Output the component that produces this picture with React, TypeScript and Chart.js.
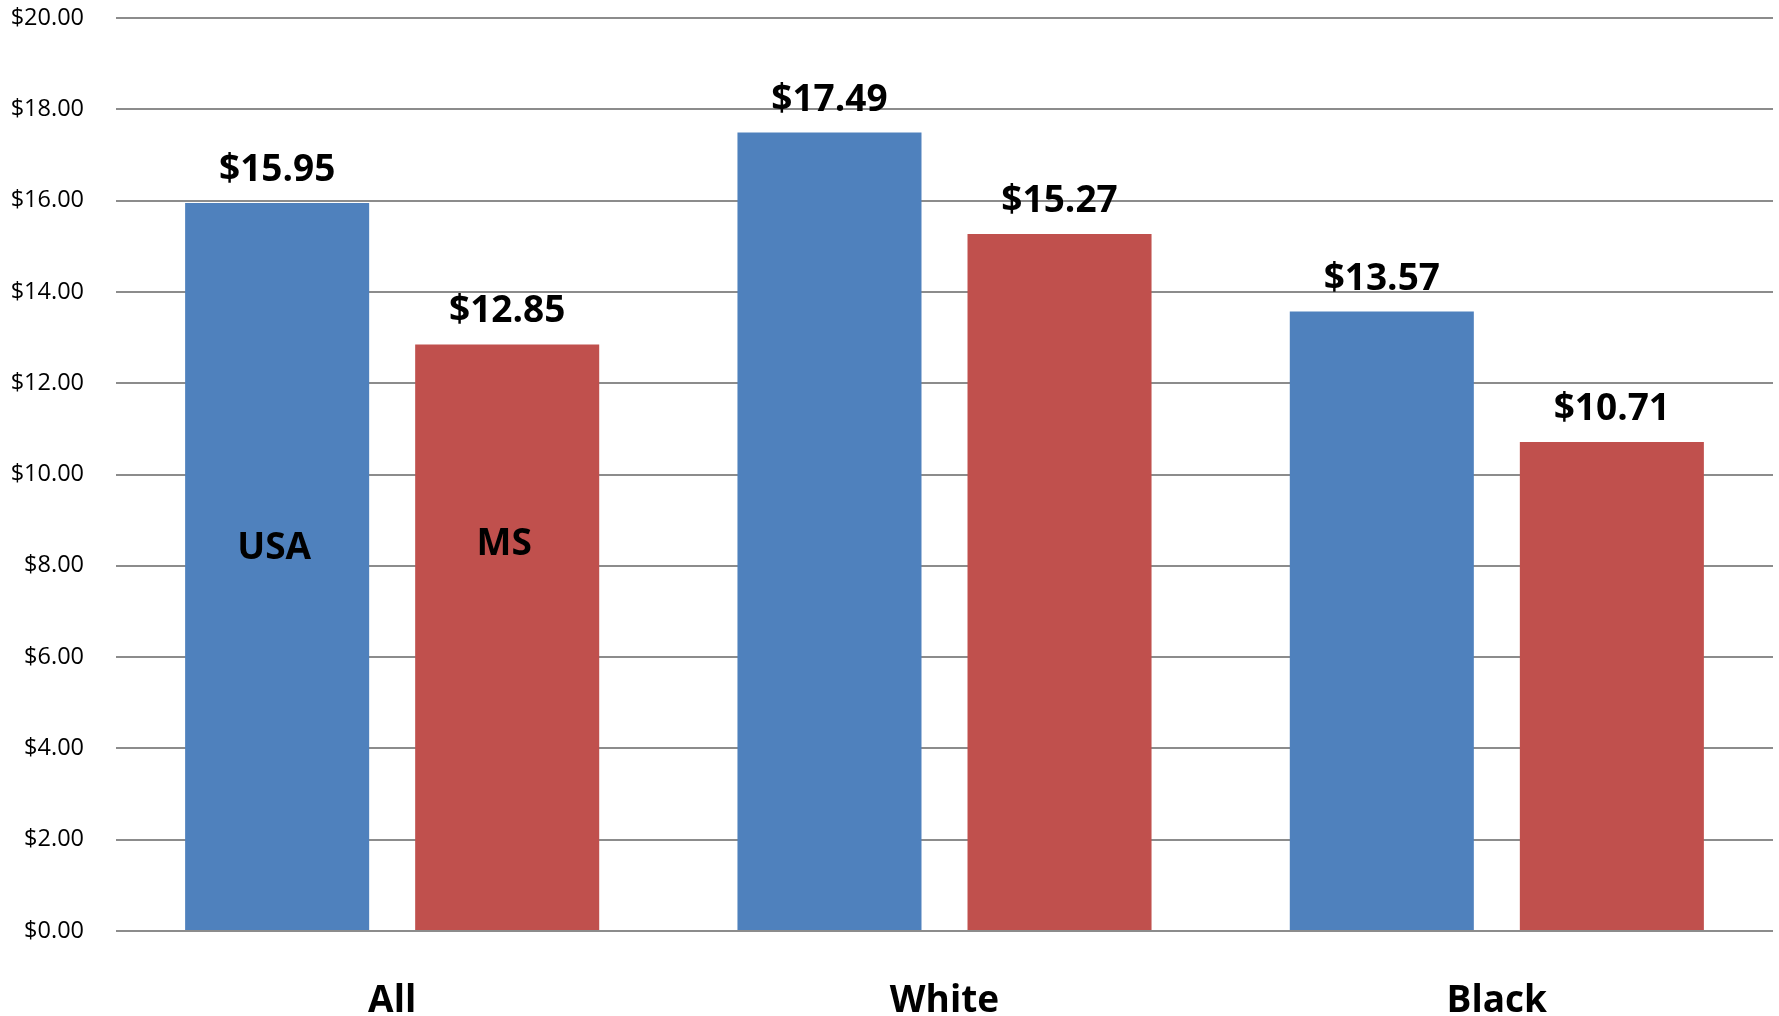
import React, { useEffect, useRef } from "react";
import { Chart, registerables } from "chart.js";

Chart.register(...registerables);

const categories = ["All", "White", "Black"];
const seriesNames = ["USA", "MS"];
const usaValues = [15.95, 17.49, 13.57];
const msValues = [12.85, 15.27, 10.71];
const seriesLabelValues = [8.37, 8.47];
const yTicks = [0, 2, 4, 6, 8, 10, 12, 14, 16, 18, 20];

const FONT = "'Open Sans', sans-serif";

const labelsPlugin = {
  id: "barLabels",
  afterDatasetsDraw(chart: any) {
    const ctx = chart.ctx;
    const yScale = chart.scales.y;
    ctx.save();
    ctx.fillStyle = "#000";
    ctx.textAlign = "center";
    chart.data.datasets.forEach((ds: any, di: number) => {
      const meta = chart.getDatasetMeta(di);
      meta.data.forEach((bar: any, i: number) => {
        const v = ds.data[i];
        ctx.font = `bold 37px ${FONT}`;
        ctx.textBaseline = "alphabetic";
        ctx.fillText("$" + v.toFixed(2), bar.x, bar.y - 22);
      });
      const first = meta.data[0];
      if (first) {
        ctx.font = `bold 37px ${FONT}`;
        ctx.textBaseline = "middle";
        ctx.fillText(seriesNames[di], first.x - 3, yScale.getPixelForValue(seriesLabelValues[di]));
      }
    });
    ctx.restore();
  },
};

export default function App() {
  const ref = useRef<HTMLCanvasElement>(null);
  useEffect(() => {
    document.body.style.margin = "0";
    const chart = new Chart(ref.current!, {
      type: "bar",
      data: {
        labels: categories,
        datasets: [
          { label: seriesNames[0], data: usaValues, backgroundColor: "#4F81BD", categoryPercentage: 0.833, barPercentage: 0.8 },
          { label: seriesNames[1], data: msValues, backgroundColor: "#C0504D", categoryPercentage: 0.833, barPercentage: 0.8 },
        ],
      },
      options: {
        responsive: false,
        animation: false,
        layout: { autoPadding: false, padding: { left: 0, right: 6, top: 18, bottom: 0 } },
        plugins: { legend: { display: false }, tooltip: { enabled: false } },
        scales: {
          x: {
            grid: { display: false },
            border: { display: false },
            afterFit: (axis: any) => {
              axis.height = 85;
              axis.paddingLeft = 0;
              axis.paddingRight = 0;
            },
            ticks: { color: "#000", font: { family: FONT, size: 37, weight: "bold" }, padding: 40 },
          },
          y: {
            min: 0,
            max: 20,
            afterBuildTicks: (axis: any) => {
              axis.ticks = yTicks.map((v) => ({ value: v }));
            },
            afterFit: (axis: any) => {
              axis.width = 116;
              axis.paddingTop = 0;
              axis.paddingBottom = 0;
            },
            grid: { color: "#8c8c8c", lineWidth: 2, drawTicks: false },
            border: { display: false },
            ticks: {
              color: "#000",
              padding: 32,
              font: { family: FONT, size: 23.5 },
              callback: (v: any) => "$" + Number(v).toFixed(2),
            },
          },
        },
      },
      plugins: [labelsPlugin],
    });
    return () => chart.destroy();
  }, []);
  return (
    <div style={{ position: "absolute", left: 0, top: 0, width: 1779, height: 1016, background: "#fff" }}>
      <canvas ref={ref} width={1779} height={1016} />
    </div>
  );
}
